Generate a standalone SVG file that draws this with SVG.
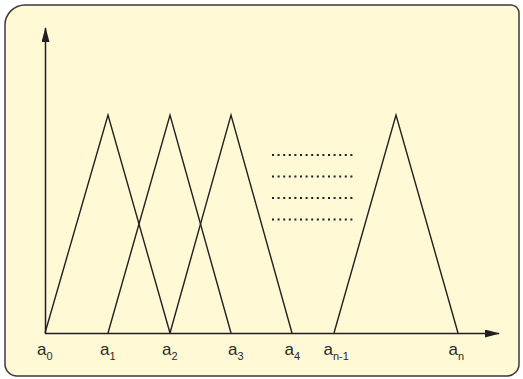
<svg xmlns="http://www.w3.org/2000/svg" width="523" height="379" viewBox="0 0 523 379">
<style>
.ln{fill:none;stroke:#231f20;stroke-width:1.4;stroke-linejoin:miter}
.ax{fill:none;stroke:#231f20;stroke-width:1.5}
.dot{fill:none;stroke:#231f20;stroke-width:2;stroke-dasharray:2 3.6}
.lb{font-family:"Liberation Sans",Arial,sans-serif;font-size:17px;fill:#2a2a2a}
.sb{font-size:11px}
</style>
<defs>
<marker id="ah" markerWidth="15" markerHeight="8" refX="14" refY="4" orient="auto" markerUnits="userSpaceOnUse">
<path d="M0,0 L15,4 L0,8 Z" fill="#231f20"/>
</marker>
</defs>
<path id="frame" d="M5,25 A20,20 0 0 1 25,5 L511,5 A8,8 0 0 1 519,13 L519,364 A12,12 0 0 1 507,376 L17,376 A12,12 0 0 1 5,364 Z" fill="#fff9d6" stroke="#3a3a3a" stroke-width="1.5"/>
<g id="axes">
<line class="ax" x1="45.5" y1="333.5" x2="45.5" y2="28" marker-end="url(#ah)"/>
<line class="ax" x1="45" y1="333.5" x2="499" y2="333.5" marker-end="url(#ah)"/>
</g>
<g id="triangles">
<polyline class="ln" points="45,333 108,115 170,333"/>
<polyline class="ln" points="108,333 170,115 231,333"/>
<polyline class="ln" points="170,333 231,115 292,333"/>
<polyline class="ln" points="334,333 396,115 458,333"/>
</g>
<g id="dots">
<line class="dot" x1="272" y1="155" x2="356" y2="155"/>
<line class="dot" x1="272" y1="176.5" x2="356" y2="176.5"/>
<line class="dot" x1="272" y1="198" x2="356" y2="198"/>
<line class="dot" x1="272" y1="219.5" x2="356" y2="219.5"/>
</g>
<g id="labels">
<text class="lb" x="37" y="355">a<tspan class="sb" dy="5">0</tspan></text>
<text class="lb" x="100" y="355">a<tspan class="sb" dy="5">1</tspan></text>
<text class="lb" x="162" y="355">a<tspan class="sb" dy="5">2</tspan></text>
<text class="lb" x="228" y="355">a<tspan class="sb" dy="5">3</tspan></text>
<text class="lb" x="284.5" y="355">a<tspan class="sb" dy="5">4</tspan></text>
<text class="lb" x="323.5" y="355">a<tspan class="sb" dy="5">n-1</tspan></text>
<text class="lb" x="448.5" y="355">a<tspan class="sb" dy="5">n</tspan></text>
</g>
</svg>
